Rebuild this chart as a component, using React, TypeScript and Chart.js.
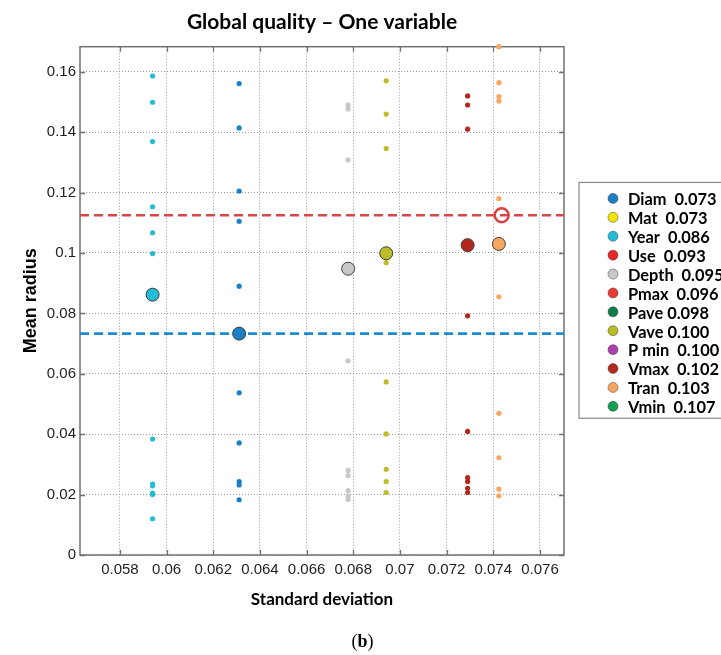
import React, { useEffect, useRef } from 'react';
import { Chart, registerables } from 'chart.js';

Chart.register(...registerables);

// ---- axis ticks ----
const xTicks = [0.058, 0.06, 0.062, 0.064, 0.066, 0.068, 0.07, 0.072, 0.074, 0.076];
const yTicks = [0, 0.02, 0.04, 0.06, 0.08, 0.1, 0.12, 0.14, 0.16];
const xMin = 0.05629;
const xMax = 0.07703;
const yMin = 0;
const yMax = 0.1683;

// ---- plotted variables (standard deviation, mean radius) ----
const plottedNames = ['Year', 'Diam', 'Depth', 'Vave', 'Vmax', 'Tran'];
const plottedStd = [0.0594, 0.06311, 0.06778, 0.06941, 0.0729, 0.07424];
const plottedMean = [0.0862, 0.0733, 0.0948, 0.0999, 0.1026, 0.103];
const plottedColors = ['#22bcd6', '#1a7fc4', '#c8c8c8', '#bcbc26', '#b3281e', '#f6a660'];

// individual runs (mean radius) for each plotted variable
const yearRuns = [0.1586, 0.1499, 0.1369, 0.1153, 0.1067, 0.0998, 0.0384, 0.0235, 0.0229, 0.0205, 0.02, 0.012];
const diamRuns = [0.1561, 0.1414, 0.1205, 0.1105, 0.089, 0.0537, 0.0371, 0.0243, 0.0232, 0.0183];
const depthRuns = [0.149, 0.1477, 0.1308, 0.0643, 0.028, 0.0263, 0.0213, 0.0195, 0.0184];
const vaveRuns = [0.157, 0.146, 0.1346, 0.0968, 0.0573, 0.0401, 0.0284, 0.0243, 0.0207];
const vmaxRuns = [0.152, 0.149, 0.141, 0.0792, 0.0409, 0.0256, 0.0243, 0.0221, 0.0207];
const tranRuns = [0.1683, 0.1564, 0.1518, 0.1503, 0.118, 0.0855, 0.0469, 0.0322, 0.0218, 0.0196];
const allRuns = [yearRuns, diamRuns, depthRuns, vaveRuns, vmaxRuns, tranRuns];

// reference dashed lines and the highlighted point
const refLineValues = [0.1125, 0.0733];
const refLineColors = ['#d94646', '#1a8cd2'];
const bestStd = 0.07436;
const bestMean = 0.1125;

// ---- legend ----
const legendNames = ['Diam', 'Mat', 'Year', 'Use', 'Depth', 'Pmax', 'Pave', 'Vave', 'P min', 'Vmax', 'Tran', 'Vmin'];
const legendValues = [0.073, 0.073, 0.086, 0.093, 0.095, 0.096, 0.098, 0.1, 0.1, 0.102, 0.103, 0.107];
const legendSep = ['  ', '  ', '  ', '  ', '  ', '  ', ' ', ' ', '  ', '  ', '  ', '  '];
const legendColors = ['#1a7fc4', '#f2e600', '#22bcd6', '#e82828', '#c8c8c8', '#e83a30', '#0f7a4a', '#bcbc26', '#b040b0', '#b3281e', '#f6a660', '#12a050'];

const panelLetter = 'b';

const fmt = (v: number) => String(+v.toFixed(3));

const boxPlugin = {
  id: 'matlabBox',
  beforeDatasetsDraw(chart: any) {
    const { ctx, chartArea: a, scales } = chart;
    const x = scales.x;
    const y = scales.y;
    ctx.save();
    ctx.strokeStyle = '#707070';
    ctx.lineWidth = 1.5;
    ctx.strokeRect(a.left, a.top, a.right - a.left, a.bottom - a.top);
    ctx.lineWidth = 1.3;
    ctx.beginPath();
    xTicks.forEach((v) => {
      const px = Math.round(x.getPixelForValue(v)) + 0.5;
      ctx.moveTo(px, a.bottom);
      ctx.lineTo(px, a.bottom - 5);
      ctx.moveTo(px, a.top);
      ctx.lineTo(px, a.top + 5);
    });
    yTicks.forEach((v) => {
      const py = Math.round(y.getPixelForValue(v)) + 0.5;
      ctx.moveTo(a.left, py);
      ctx.lineTo(a.left + 5, py);
      ctx.moveTo(a.right, py);
      ctx.lineTo(a.right - 5, py);
    });
    ctx.stroke();
    ctx.restore();
  },
};

const legendPlugin = {
  id: 'boxLegend',
  afterDraw(chart: any) {
    const { ctx, chartArea: a } = chart;
    const rowH = 18.9;
    const n = legendNames.length;
    const left = a.right + 15;
    const mid = (a.top + a.bottom) / 2;
    const height = n * rowH + 9;
    const top = mid - height / 2 - 0.5;
    ctx.save();
    ctx.fillStyle = '#ffffff';
    ctx.fillRect(left, top, 300, height);
    ctx.strokeStyle = '#8a8a8a';
    ctx.lineWidth = 1.2;
    ctx.strokeRect(left, top, 300, height);
    ctx.font = 'bold 16.4px Lato, "Open Sans", sans-serif';
    ctx.textBaseline = 'middle';
    ctx.textAlign = 'left';
    for (let i = 0; i < n; i++) {
      const cy = top + 16 + i * rowH;
      ctx.beginPath();
      ctx.arc(left + 34, cy, 5, 0, Math.PI * 2);
      ctx.fillStyle = legendColors[i];
      ctx.fill();
      ctx.strokeStyle = 'rgba(60,60,60,0.6)';
      ctx.lineWidth = 0.8;
      ctx.stroke();
      ctx.fillStyle = '#000';
      ctx.fillText(legendNames[i] + legendSep[i] + legendValues[i].toFixed(3), left + 49, cy + 1.5);
    }
    // panel label "(b)" centred on the whole figure, letter in bold
    const fam = '"Liberation Serif", "DejaVu Serif", serif';
    const normal = '18px ' + fam;
    const bold = 'bold 18px ' + fam;
    ctx.font = normal;
    const wp = ctx.measureText('(').width;
    const wc = ctx.measureText(')').width;
    ctx.font = bold;
    const wb = ctx.measureText(panelLetter).width;
    let x0 = chart.width / 2 + 2 - (wp + wb + wc) / 2;
    const yb = 642;
    ctx.textAlign = 'left';
    ctx.font = normal;
    ctx.fillText('(', x0, yb);
    x0 += wp;
    ctx.font = bold;
    ctx.fillText(panelLetter, x0, yb);
    x0 += wb;
    ctx.font = normal;
    ctx.fillText(')', x0, yb);
    ctx.restore();
  },
};

export default function App() {
  const ref = useRef<HTMLCanvasElement>(null);

  useEffect(() => {
    const datasets: any[] = [];
    plottedNames.forEach((name, i) => {
      datasets.push({
        label: name + ' runs',
        data: allRuns[i].map((v) => ({ x: plottedStd[i], y: v })),
        backgroundColor: plottedColors[i],
        borderColor: plottedColors[i],
        pointRadius: 2.6,
        pointBorderWidth: 0,
        clip: false,
        order: 3,
      });
    });
    refLineValues.forEach((v, i) => {
      datasets.push({
        label: 'ref' + i,
        data: [{ x: xMin, y: v }, { x: xMax, y: v }],
        showLine: true,
        borderColor: refLineColors[i],
        borderWidth: 2.6,
        borderDash: [9, 5],
        pointRadius: 0,
        order: 2,
      });
    });
    plottedNames.forEach((name, i) => {
      datasets.push({
        label: name,
        data: [{ x: plottedStd[i], y: plottedMean[i] }],
        backgroundColor: plottedColors[i],
        pointBackgroundColor: plottedColors[i],
        pointBorderColor: '#3c3c3c',
        pointRadius: 6.5,
        pointBorderWidth: 1,
        order: 1,
      });
    });
    datasets.push({
      label: 'best',
      data: [{ x: bestStd, y: bestMean }],
      backgroundColor: 'rgba(255,255,255,0)',
      pointBackgroundColor: 'rgba(255,255,255,0)',
      pointBorderColor: '#d94040',
      pointRadius: 7,
      pointBorderWidth: 2.5,
      order: 0,
    });

    const tickFont = { family: '"Liberation Sans", Arial, sans-serif', size: 15 };

    const chart = new Chart(ref.current as HTMLCanvasElement, {
      type: 'scatter',
      data: { datasets },
      plugins: [boxPlugin, legendPlugin],
      options: {
        animation: false,
        responsive: false,
        devicePixelRatio: 1,
        layout: { padding: { left: 0, right: 157, top: 0, bottom: 24.8 } },
        plugins: {
          legend: { display: false },
          tooltip: { enabled: false },
          title: {
            display: true,
            text: 'Global quality \u2013 One variable',
            color: '#000',
            fullSize: false,
            font: { family: 'Lato, "Open Sans", sans-serif', size: 21, weight: 'bold' },
            padding: { top: 9.5, bottom: 12 },
          },
        },
        scales: {
          x: {
            type: 'linear',
            min: xMin,
            max: xMax,
            afterBuildTicks: (scale: any) => {
              scale.ticks = xTicks.map((v) => ({ value: v }));
            },
            afterFit: (scale: any) => {
              scale.height = 75.2;
            },
            grid: { color: '#9a9a9a', lineWidth: 1, drawTicks: false },
            border: { display: false, dash: [1, 2] },
            ticks: {
              color: '#1e1e1e',
              font: tickFont,
              padding: 6,
              maxRotation: 0,
              autoSkip: false,
              callback: (v: any) => fmt(Number(v)),
            },
            title: {
              display: true,
              text: 'Standard deviation',
              color: '#000',
              font: { family: 'Lato, "Open Sans", sans-serif', size: 17, weight: 'bold' },
              padding: { top: 0, bottom: 20 },
            },
          },
          y: {
            type: 'linear',
            min: yMin,
            max: yMax,
            afterBuildTicks: (scale: any) => {
              scale.ticks = yTicks.map((v) => ({ value: v }));
            },
            afterFit: (scale: any) => {
              scale.width = 80;
            },
            grid: { color: '#9a9a9a', lineWidth: 1, drawTicks: false },
            border: { display: false, dash: [1, 2] },
            ticks: {
              color: '#1e1e1e',
              font: tickFont,
              padding: 4,
              autoSkip: false,
              callback: (v: any) => fmt(Number(v)),
            },
            title: {
              display: true,
              text: 'Mean radius',
              color: '#000',
              font: { family: '"Liberation Sans", Arial, sans-serif', size: 18, weight: 'bold' },
              padding: { top: 20, bottom: 0 },
            },
          },
        },
      },
    } as any);
    return () => chart.destroy();
  }, []);

  return (
    <div
      style={{
        position: 'fixed',
        left: 0,
        top: 0,
        width: 721,
        height: 655,
        overflow: 'hidden',
        background: '#fff',
      }}
    >
      <canvas ref={ref} width={721} height={655} style={{ display: 'block', width: 721, height: 655 }} />
    </div>
  );
}
